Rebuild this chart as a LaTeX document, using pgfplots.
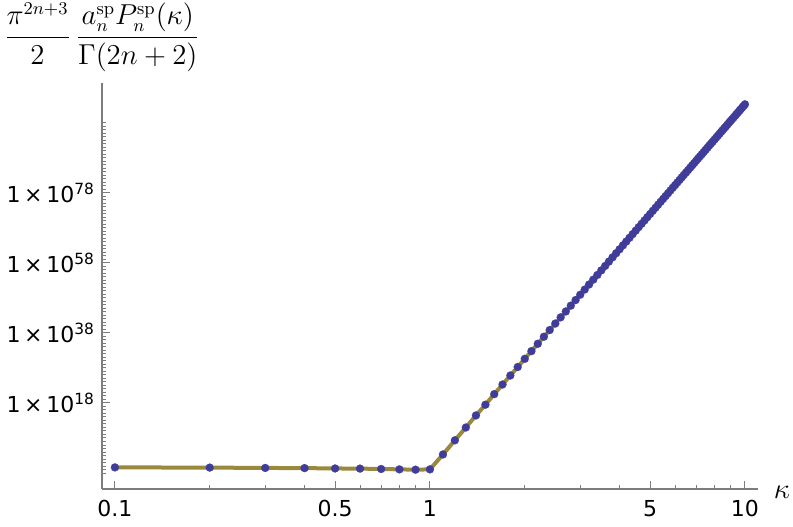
\documentclass[border=0pt]{standalone}
\usepackage[no-math]{fontspec}
\setmainfont{DejaVu Sans}
\usepackage{pgfplots}
\pgfplotsset{compat=1.18}
\usetikzlibrary{calc}
\definecolor{linecol}{RGB}{153,137,60}
\definecolor{markcol}{RGB}{63,61,153}
\definecolor{axcol}{RGB}{125,125,125}
\def\yminorlist{1e-2}
\foreach \k in {-1,...,98}{\xdef\yminorlist{\yminorlist,1e\k}}
\begin{document}
\begin{tikzpicture}
\begin{axis}[name=ax, scale only axis, width=328pt, height=203pt,
  xmode=log, ymode=log,
  xmin=0.091, xmax=11, ymin=2.7e-7, ymax=2.5e109,
  axis lines=left,
  axis line style={axcol, line width=0.6pt, -},
  xtick={0.1,0.5,1,5,10}, xticklabels={0.1,0.5,1,5,10},
  minor xtick={0.2,0.3,0.4,0.6,0.7,0.8,0.9,2,3,4,6,7,8,9},
  ytick={1e18,1e38,1e58,1e78},
  yticklabels={1\,×\,10\textsuperscript{18},1\,×\,10\textsuperscript{38},1\,×\,10\textsuperscript{58},1\,×\,10\textsuperscript{78}},
  minor ytick/.expand once={\yminorlist},
  tick style={axcol, line width=0.5pt},
  major tick length=4pt, minor tick length=2pt,
  tick align=inside,
  ticklabel style={font=\fontsize{11}{13}\selectfont},
  xticklabel style={yshift=-2pt},
  clip=false,
]
\addplot[color=linecol, line width=2pt, mark=*, mark size=2pt,
  mark options={draw=markcol, fill=markcol, line width=0.1pt, solid}] coordinates {
(0.1,4e-1) (0.2,3.5e-1) (0.3,2.8e-1) (0.4,2.5e-1) (0.5,2e-1)
(0.6,1.8e-1) (0.7,1.4e-1) (0.8,1.1e-1) (0.9,8.9e-2) (1.0,1.1e-1)
(1.1,2e3) (1.2,2.2e7) (1.3,1e11) (1.4,2.8e14) (1.5,3.2e17)
(1.6,3.4e20) (1.7,1.9e23) (1.8,7.1e25) (1.9,1.9e28) (2.0,4.1e30)
(2.1,6.5e32) (2.2,8.1e34) (2.3,8.3e36) (2.4,6.9e38) (2.5,4.9e40)
(2.6,2.9e42) (2.7,1.4e44) (2.8,6.3e45) (2.9,2.5e47) (3.0,8.3e48)
(3.1,2.5e50) (3.2,6.9e51) (3.3,1.7e53) (3.4,3.7e54) (3.5,7.6e55)
(3.6,1.4e57) (3.7,2.5e58) (3.8,4e59) (3.9,5.9e60) (4.0,8.1e61)
(4.1,1.1e63) (4.2,1.3e64) (4.3,1.5e65) (4.4,1.7e66) (4.5,1.7e67)
(4.6,1.7e68) (4.7,1.6e69) (4.8,1.4e70) (4.9,1.2e71) (5.0,9.8e71)
(5.1,7.8e72) (5.2,5.8e73) (5.3,4.2e74) (5.4,3e75) (5.5,2e76)
(5.6,1.3e77) (5.7,8.1e77) (5.8,5e78) (5.9,3e79) (6.0,1.7e80)
(6.1,9.3e80) (6.2,5.1e81) (6.3,2.7e82) (6.4,1.4e83) (6.5,6.9e83)
(6.6,3.4e84) (6.7,1.6e85) (6.8,7.6e85) (6.9,3.5e86) (7.0,1.5e87)
(7.1,6.8e87) (7.2,2.9e88) (7.3,1.2e89) (7.4,5e89) (7.5,2e90)
(7.6,7.9e90) (7.7,3.2e91) (7.8,1.2e92) (7.9,4.5e92) (8.0,1.7e93)
(8.1,6e93) (8.2,2.2e94) (8.3,7.6e94) (8.4,2.7e95) (8.5,9.1e95)
(8.6,3.1e96) (8.7,1e97) (8.8,3.4e97) (8.9,1.1e98) (9.0,3.5e98)
(9.1,1.1e99) (9.2,3.4e99) (9.3,1e100) (9.4,3.2e100) (9.5,9.5e100)
(9.6,2.9e101) (9.7,8.3e101) (9.8,2.5e102) (9.9,7.1e102) (10.0,2e103)
};
\end{axis}
\node at ($(ax.north west)+(0,23pt)$) {\fontsize{13.5}{16}\selectfont$\displaystyle\frac{\pi^{2n+3}}{2}\,\frac{a_n^{\mathrm{sp}}P_n^{\mathrm{sp}}(\kappa)}{\Gamma(2n+2)}$};
\node at ($(ax.south east)+(12pt,-1.5pt)$) {\fontsize{14}{16}\selectfont$\kappa$};
\pgfresetboundingbox
\path[use as bounding box] ($(ax.south west)+(-51pt,-18.5pt)$) rectangle ($(ax.north east)+(17.5pt,41.5pt)$);
\end{tikzpicture}
\end{document}
